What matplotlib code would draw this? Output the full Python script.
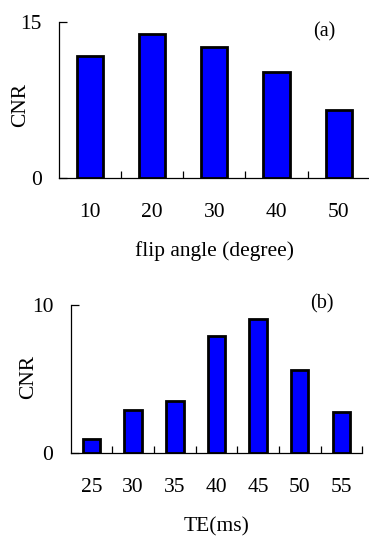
import numpy as np
import matplotlib
matplotlib.use("Agg")
import matplotlib.pyplot as plt

plt.rcParams['font.family'] = ['Liberation Serif', 'DejaVu Serif']

# panel (a): CNR vs flip angle
flip_angles = ['10', '20', '30', '40', '50']
cnr_flip = [11.7, 13.8, 12.6, 10.2, 6.5]

# panel (b): CNR vs TE
te_values = ['25', '30', '35', '40', '45', '50', '55']
cnr_te = [0.97, 2.9, 3.5, 7.9, 9.05, 5.65, 2.8]

fig = plt.figure(figsize=(3.69, 5.36), dpi=100)
ax1 = fig.add_axes([0.160, 0.668, 0.842, 0.291])
ax2 = fig.add_axes([0.1916, 0.154, 0.79, 0.277])

def draw_panel(ax, labels, values, ymax, xlabel, tag, ylab_pos, tag_pos):
    n = len(labels)
    x = np.arange(n)
    ax.bar(x, values, width=0.42, color='#0000FF', edgecolor='black', linewidth=2.0)
    ax.set_xlim(-0.5, n - 0.5)
    ax.set_ylim(0, ymax)
    for s in ['top', 'right']:
        ax.spines[s].set_visible(False)
    for s in ['left', 'bottom']:
        ax.spines[s].set_linewidth(0.9)
    ax.set_yticks([0, ymax])
    ax.set_yticklabels(['0', str(ymax)])
    ax.tick_params(axis='y', direction='in', length=6, width=0.9, labelsize=15.5, pad=12.5)
    # bin boundaries as ticks, labels centred in bins
    ax.set_xticks(np.arange(0.5, n, 1.0))
    ax.set_xticklabels([])
    ax.tick_params(axis='x', which='major', direction='in', length=5, width=0.9)
    ax.set_xticks(x, minor=True)
    ax.set_xticklabels(labels, minor=True)
    ax.tick_params(axis='x', which='minor', length=0, labelsize=15.5, pad=18)
    ax.set_xlabel(xlabel, fontsize=15.5, labelpad=14)
    ax.set_ylabel('CNR', fontsize=15.5)
    ax.yaxis.set_label_coords(*ylab_pos)
    ax.text(tag_pos[0], tag_pos[1], tag, transform=ax.transAxes, fontsize=14.5,
            ha='center', va='center')

draw_panel(ax1, flip_angles, cnr_flip, 15, 'flip angle (degree)', '(a)',
           (-0.093, 0.468), (0.853, 0.936))
draw_panel(ax2, te_values, cnr_te, 10, 'TE(ms)', '(b)',
           (-0.111, 0.518), (0.862, 1.007))

fig.savefig('out.png', dpi=100)
